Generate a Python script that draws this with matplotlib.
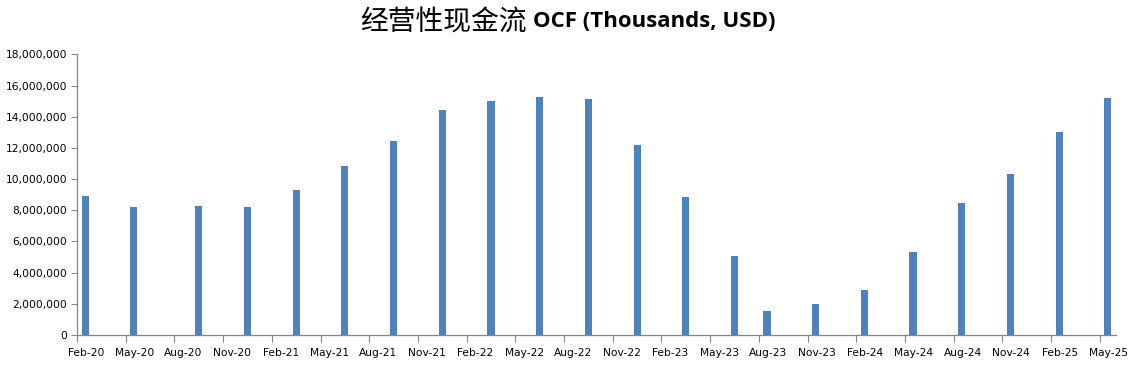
import matplotlib.pyplot as plt
from matplotlib.ticker import FuncFormatter

# month index counted from Feb 2020 (fiscal quarter ends)
months = [0, 3, 7, 10, 13, 16, 19, 22, 25, 28, 31, 34, 37, 40,
          42, 45, 48, 51, 54, 57, 60, 63]
ocf = [8.91e6, 8.21e6, 8.27e6, 8.21e6, 9.30e6, 10.86e6, 12.44e6, 14.43e6,
       15.00e6, 15.26e6, 15.13e6, 12.18e6, 8.85e6, 5.07e6,
       1.54e6, 1.99e6, 2.89e6, 5.32e6, 8.46e6, 10.32e6, 13.02e6, 15.20e6]
tick_labels = ["Feb-20", "May-20", "Aug-20", "Nov-20", "Feb-21", "May-21",
               "Aug-21", "Nov-21", "Feb-22", "May-22", "Aug-22", "Nov-22",
               "Feb-23", "May-23", "Aug-23", "Nov-23", "Feb-24", "May-24",
               "Aug-24", "Nov-24", "Feb-25", "May-25"]

bar_color = "#4F81BD"
axis_color = "#868686"

fig = plt.figure(figsize=(11.39, 3.71), dpi=100)
ax = fig.add_axes([0.0676, 0.0970, 0.9122, 0.7566])

ax.bar([m + 0.5 for m in months], ocf, width=0.44, color=bar_color)

ax.set_xlim(0, 64)
ax.set_ylim(0, 18e6)
ax.set_yticks(range(0, 18000001, 2000000))
ax.yaxis.set_major_formatter(FuncFormatter(lambda v, p: f"{int(v):,}"))

tick_pos = list(range(0, 64, 3))
ax.set_xticks(tick_pos)
ax.set_xticklabels([])
ax.set_xticks([t + 0.55 for t in tick_pos], minor=True)
ax.set_xticklabels(tick_labels, minor=True)
ax.tick_params(axis="x", which="major", length=5, color=axis_color, width=0.8)
ax.tick_params(axis="x", which="minor", length=0, pad=9, labelsize=7.7)
ax.tick_params(axis="y", length=4, color=axis_color, width=0.8, labelsize=7.7, pad=3)

for s in ["top", "right"]:
    ax.spines[s].set_visible(False)
for s in ["left", "bottom"]:
    ax.spines[s].set_color(axis_color)
    ax.spines[s].set_linewidth(0.9)

fig.text(0.462, 0.942, "经营性现金流", ha="right", va="center",
         fontsize=20, family=["Noto Sans CJK SC", "DejaVu Sans"])
fig.text(0.468, 0.942, "OCF (Thousands, USD)", ha="left", va="center",
         fontsize=16, fontweight="bold", family=["Open Sans", "DejaVu Sans"])

fig.savefig("out.png", dpi=100)
